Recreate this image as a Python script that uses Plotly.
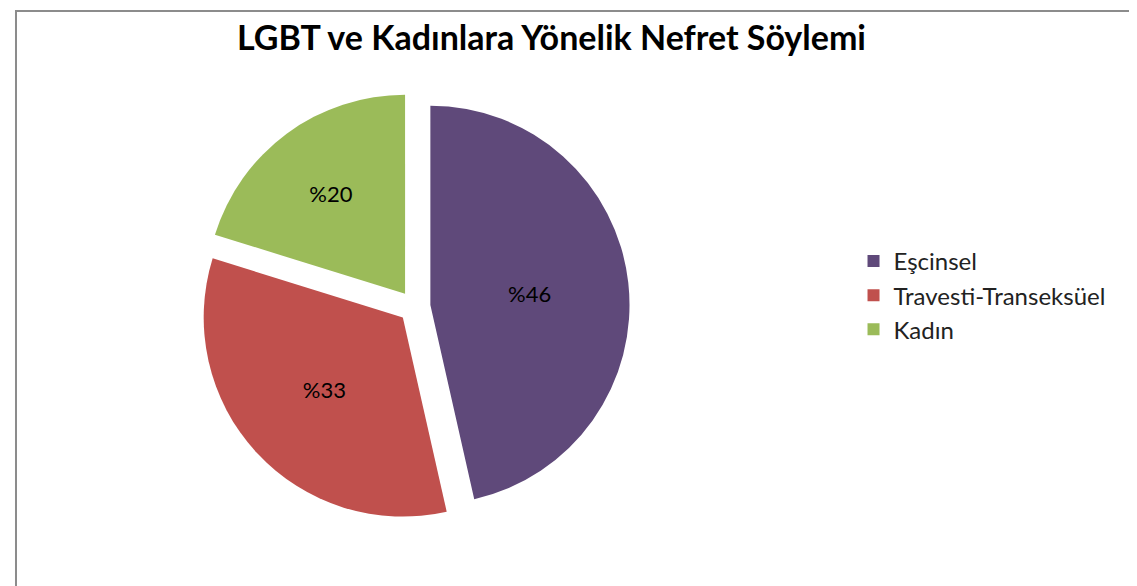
import plotly.graph_objects as go

categories = ["Eşcinsel", "Travesti-Transeksüel", "Kadın"]
values = [46, 33, 20]
colors = ["#5F497A", "#C0504D", "#9BBB59"]
labels_text = ["%" + str(v) for v in values]

FONT = "Lato, Carlito, Calibri, sans-serif"

fig = go.Figure()
fig.add_trace(go.Pie(
    labels=categories,
    values=values,
    text=labels_text,
    textinfo="text",
    textposition="inside",
    insidetextorientation="horizontal",
    textfont=dict(family=FONT, size=22, color="black"),
    marker=dict(colors=colors, line=dict(color="white", width=0)),
    sort=False,
    direction="clockwise",
    rotation=0,
    pull=[0.08, 0.08, 0.08],
    hoverinfo="label+percent",
    domain=dict(x=[0.08, 0.63], y=[0.11, 0.87]),
))

fig.update_layout(
    width=1137,
    height=586,
    paper_bgcolor="white",
    plot_bgcolor="white",
    margin=dict(l=10, r=10, t=10, b=10),
    title=dict(
        text="<b>LGBT ve Kadınlara Yönelik Nefret Söylemi</b>",
        x=0.478, xanchor="center", y=0.948, yanchor="middle",
        font=dict(family=FONT, size=34, color="black"),
    ),
    legend=dict(
        x=0.748, y=0.51, xanchor="left", yanchor="middle",
        font=dict(family=FONT, size=24, color="#222"),
        itemsizing="constant",
        bgcolor="rgba(0,0,0,0)",
    ),
    shapes=[dict(
        type="rect", xref="paper", yref="paper",
        x0=-0.0018, x1=1.0075, y0=-0.05, y1=1.0125,
        line=dict(color="#8c8c8c", width=2), fillcolor="rgba(0,0,0,0)",
    )],
)

fig.write_html("out.html")
